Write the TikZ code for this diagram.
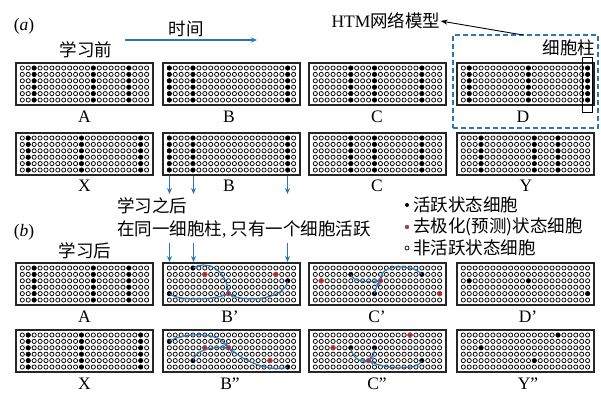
\documentclass[tikz,border=0pt]{standalone}
\usepackage{fontspec}
\setmainfont{Liberation Serif}
\newfontfamily\cjk{Noto Sans CJK SC}
\usetikzlibrary{arrows.meta}
\definecolor{flowblue}{RGB}{46,117,182}
\definecolor{predred}{RGB}{215,35,35}
\tikzset{
  gridbox/.style={draw=black!85, line width=1.1pt, minimum width=137pt, minimum height=42pt, inner sep=0pt},
  offcell/.style={draw=black, line width=0.75pt, fill=white},
  oncell/.style={fill=black},
  redcell/.style={fill=predred, draw=black!60, line width=0.4pt},
  lbl/.style={font=\fontsize{17.5}{20}\selectfont, inner sep=0pt},
  glbl/.style={font=\fontsize{17.5}{20}\selectfont, inner sep=0pt, anchor=base},
  cjklbl/.style={font=\fontsize{17.5}{20}\selectfont\cjk, inner sep=0pt},
  flow/.style={draw=flowblue, line width=1.1pt, -{Stealth[length=6pt,width=5pt]}},
  flowc/.style={draw=flowblue, line width=1.1pt, shorten >=1pt, -{Stealth[length=5pt,width=4.5pt]}},
  hint/.style={draw=black, line width=0.9pt, -{Stealth[length=7pt,width=5pt]}},
}
\newcommand\cellgrid[3]{%
  \node[gridbox] (#1) at ({#2+68.5},{#3+21}) {};
  \foreach \ci in {1,...,22}{\foreach \ri in {1,...,6}{%
    \path[offcell] ({#2+0.38+\ci*5.92},{#3-1.4+\ri*6.4}) circle (2.1pt);}}%
}
\newcommand\fullcols[3]{%
  \foreach \ci in {#3}{\foreach \ri in {1,...,6}{%
    \fill ({#1+0.38+\ci*5.92},{#2-1.4+\ri*6.4}) circle (2.35pt);}}%
}
\newcommand\onecell[6]{%
  \coordinate (#1) at ({#2+0.38+#4*5.92},{#3-1.4+#5*6.4});
  \path[#6] (#1) circle (2.35pt);%
}
\begin{document}
\begin{tikzpicture}[x=1pt,y=-1pt]
\fill[white] (0,0) rectangle (601,392);
\useasboundingbox (0,0) rectangle (601,392);

% ---------- (a) ----------
\node[lbl] (pa) at (24,26) {(\textit{a})};
\node[cjklbl] (time) at (186,29) {时间};
\coordinate (t0) at (125,40);
\coordinate (t1) at (257,40);
\draw[flow] (t0) -- (t1);
\node[cjklbl] (before) at (86,50) {学习前};
\node[lbl] (htm) at (386,21) {HTM{\cjk 网络模型}};
\node[draw=flowblue, dash pattern=on 5pt off 3pt, line width=1.1pt, minimum width=145pt, minimum height=93pt, inner sep=0pt] (dbox) at (525.5,81.5) {};
\coordinate (hs) at (523,35);
\draw[hint] (hs) -- (htm.east);
\node[cjklbl] (colname) at (569,47.5) {细胞柱};

% row 1
\cellgrid{gA}{16}{63}   \fullcols{16}{63}{3,13,19}
\cellgrid{gB}{163}{63}  \fullcols{163}{63}{1,5,21}
\cellgrid{gC}{309}{63}  \fullcols{309}{63}{7,11,19}
\cellgrid{gD}{457}{63}  \fullcols{457}{63}{2,12,22}
\node[draw=black, line width=1.1pt, minimum width=10pt, minimum height=55pt, inner sep=0pt] (colbox) at (587.6,85) {};
\node[glbl] (lA) at (84.5,122.5) {A};
\node[glbl] (lB) at (229,122.5) {B};
\node[glbl] (lC) at (377,122.5) {C};
\node[glbl] (lD) at (523,122.5) {D};

% row 2
\cellgrid{gX}{16}{133}   \fullcols{16}{133}{2,11,21}
\cellgrid{gB2}{163}{133} \fullcols{163}{133}{1,5,21}
\cellgrid{gC2}{309}{133} \fullcols{309}{133}{7,11,19}
\cellgrid{gY}{457}{133}  \fullcols{457}{133}{4,13,17}
\node[glbl] (lX) at (84.5,191.5) {X};
\node[glbl] (lB2) at (229,191.5) {B};
\node[glbl] (lC2) at (377,191.5) {C};
\node[glbl] (lY) at (526,191.5) {Y};

% arrows between (a) and (b)
\coordinate (ua1) at (169.5,176);  \coordinate (ub1) at (169.5,194);
\coordinate (ua2) at (193.5,176);  \coordinate (ub2) at (193.5,194);
\coordinate (ua3) at (287.5,176);  \coordinate (ub3) at (287.5,194);
\coordinate (va1) at (169.5,243);  \coordinate (vb1) at (169.5,262);
\coordinate (va2) at (193.5,243);  \coordinate (vb2) at (193.5,262);
\coordinate (va3) at (287.5,243);  \coordinate (vb3) at (287.5,262);
\draw[flow] (ua1) -- (ub1);
\draw[flow] (ua2) -- (ub2);
\draw[flow] (ua3) -- (ub3);
\draw[flow] (va1) -- (vb1);
\draw[flow] (va2) -- (vb2);
\draw[flow] (va3) -- (vb3);
\node[cjklbl, anchor=west] (after1) at (117,206) {学习之后};
\node[lbl, anchor=west] (rule) at (117,229) {{\cjk 在同一细胞柱}, {\cjk 只有一个细胞活跃}};
\node[lbl] (pb) at (24,232) {(\textit{b})};
\node[cjklbl] (after2) at (85,251) {学习后};

% legend
\coordinate (k1) at (407,205);
\coordinate (k2) at (407,227);
\coordinate (k3) at (407,248);
\fill (k1) circle (2pt);
\path[redcell] (k2) circle (2pt);
\draw[line width=0.7pt] (k3) circle (2pt);
\node[cjklbl, anchor=west] (leg1) at (413,205) {活跃状态细胞};
\node[cjklbl, anchor=west] (leg2) at (413,227) {去极化(预测)状态细胞};
\node[cjklbl, anchor=west] (leg3) at (413,248) {非活跃状态细胞};

% row 3
\cellgrid{gA3}{16}{263}  \fullcols{16}{263}{3,13,19}
\cellgrid{gBp}{163}{263}
\onecell{bp5}{163}{263}{5}{1}{oncell}
\onecell{bp1}{163}{263}{1}{5}{oncell}
\onecell{bp21}{163}{263}{21}{3}{oncell}
\onecell{bpr1}{163}{263}{7}{2}{redcell}
\onecell{bpT}{163}{263}{11}{5}{redcell}
\onecell{bpr3}{163}{263}{19}{2}{redcell}
\draw[flowc] (bp5) .. controls (205,260) and (225,268) .. (bpT);
\draw[flowc] (bp1) .. controls (178,301) and (212,300) .. (bpT);
\draw[flowc] (bp21) .. controls (285,300) and (245,302) .. (bpT);

\cellgrid{gCp}{309}{263}
\onecell{cp7}{309}{263}{7}{2}{oncell}
\onecell{cp19}{309}{263}{19}{2}{oncell}
\onecell{cp11}{309}{263}{11}{5}{oncell}
\onecell{cpr1}{309}{263}{2}{3}{redcell}
\onecell{cpT}{309}{263}{12}{3}{redcell}
\onecell{cpr3}{309}{263}{22}{5}{redcell}
\draw[flowc] (cp7) .. controls (353,282) and (366,282) .. (cpT);
\draw[flowc] (cp19) .. controls (413,264) and (383,264) .. (cpT);
\draw[flowc] (cp11) .. controls (376,288) .. (cpT);

\cellgrid{gDp}{457}{263}
\onecell{dp1}{457}{263}{2}{3}{oncell}
\onecell{dp2}{457}{263}{12}{3}{oncell}
\onecell{dp3}{457}{263}{22}{5}{oncell}
\node[glbl] (lA3) at (84.5,322) {A};
\node[glbl] (lBp) at (230,322) {B’};
\node[glbl] (lCp) at (377,322) {C’};
\node[glbl] (lDp) at (528,322) {D’};

% row 4
\cellgrid{gX4}{16}{330}  \fullcols{16}{330}{2,11,21}
\cellgrid{gBq}{163}{330}
\onecell{bq1}{163}{330}{1}{2}{oncell}
\onecell{bq5}{163}{330}{5}{5}{oncell}
\onecell{bq21}{163}{330}{21}{6}{oncell}
\onecell{bqr1}{163}{330}{7}{3}{redcell}
\onecell{bqT}{163}{330}{11}{3}{redcell}
\onecell{bqr3}{163}{330}{18}{5}{redcell}
\draw[flowc] (bq1) .. controls (182,333) and (216,331) .. (bqT);
\draw[flowc] (bq5) .. controls (196,350) and (210,347) .. (bqT);
\draw[flowc] (bq21) .. controls (270,373) and (245,361) .. (bqT);

\cellgrid{gCq}{309}{330}
\onecell{cq7}{309}{330}{7}{3}{oncell}
\onecell{cq11}{309}{330}{11}{3}{oncell}
\onecell{cq19}{309}{330}{19}{5}{oncell}
\onecell{cqr1}{309}{330}{4}{3}{redcell}
\onecell{cqr2}{309}{330}{17}{1}{redcell}
\onecell{cqT}{309}{330}{10}{5}{redcell}
\draw[flowc] (cq7) .. controls (352,357) and (360,362) .. (cqT);
\draw[flowc] (cq11) .. controls (374,355) .. (cqT);
\draw[flowc] (cq19) .. controls (419,370) and (388,370) .. (cqT);

\cellgrid{gYq}{457}{330}
\onecell{yq1}{457}{330}{17}{1}{oncell}
\onecell{yq2}{457}{330}{4}{3}{oncell}
\onecell{yq3}{457}{330}{13}{5}{oncell}
\node[glbl] (lX4) at (84.5,389.5) {X};
\node[glbl] (lBq) at (230,389.5) {B”};
\node[glbl] (lCq) at (377,389.5) {C”};
\node[glbl] (lYq) at (528,389.5) {Y”};
\end{tikzpicture}
\end{document}
